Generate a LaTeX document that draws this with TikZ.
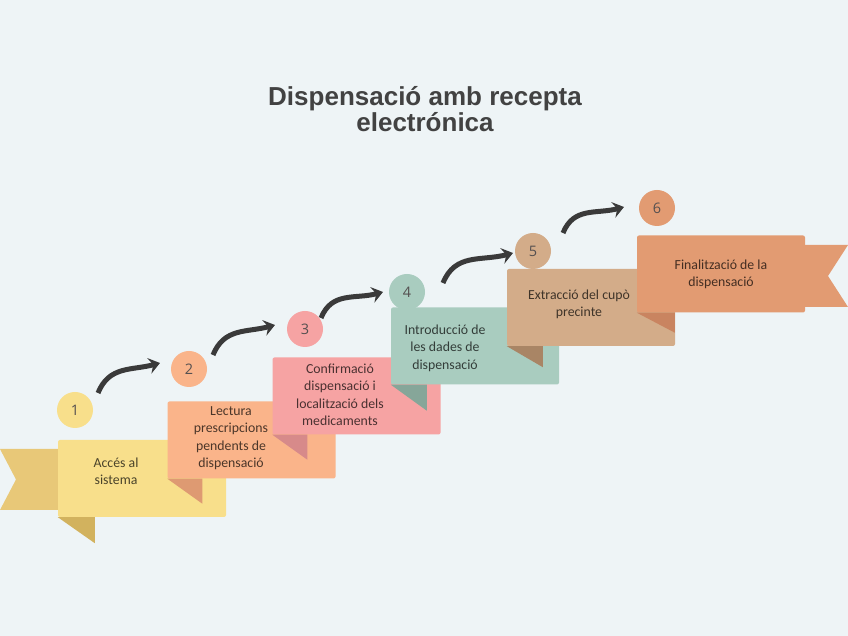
\documentclass[tikz,border=0pt]{standalone}
\usepackage{fontspec}
\setmainfont{Carlito}
\newfontfamily\titlefont{Liberation Sans}
\newfontfamily\numfont{Open Sans}
\usetikzlibrary{arrows.meta}

\definecolor{bgcol}{HTML}{EEF4F6}
\definecolor{titlecol}{HTML}{424242}
\definecolor{arrowcol}{HTML}{3A3A3A}
\definecolor{numcol}{HTML}{555050}
\definecolor{yel}{HTML}{F8DF8B}
\definecolor{yeltail}{HTML}{E8C878}
\definecolor{yelfold}{HTML}{D2B25E}
\definecolor{pea}{HTML}{FAB48A}
\definecolor{peafold}{HTML}{DE9A72}
\definecolor{pin}{HTML}{F6A3A3}
\definecolor{pinfold}{HTML}{D78A8A}
\definecolor{sag}{HTML}{A9CCBF}
\definecolor{sagfold}{HTML}{86A699}
\definecolor{tan}{HTML}{D3AC89}
\definecolor{tanfold}{HTML}{A98565}
\definecolor{ora}{HTML}{E29B72}
\definecolor{orafold}{HTML}{C98460}

\begin{document}
\begin{tikzpicture}[x=1pt,y=1pt,
  stepbox/.style={fill=#1, rounded corners=2pt, minimum width=168pt, minimum height=77pt, inner sep=0pt},
  stepnum/.style={circle, fill=#1, minimum size=36pt, inner sep=0pt, text=numcol, font=\numfont\fontsize{14.5}{14.5}\selectfont},
  steptext/.style={align=center, text=#1, font=\fontsize{13.8}{17.5}\selectfont},
  flow/.style={draw=arrowcol, line width=5pt, -{Stealth[length=11pt,width=16pt,inset=4pt]}}]

\fill[bgcol] (0,0) rectangle (848,636);
\useasboundingbox (0,0) rectangle (848,636);

\node[text=titlecol, align=center, font=\titlefont\bfseries\fontsize{26}{26}\selectfont] (title) at (425,527) {Dispensació amb recepta\\electrónica};

\fill[yeltail] (0,187) -- (70,187) -- (70,126) -- (0,126) -- (16,156.5) -- cycle;
\node[stepbox=yel] (b1) at (142,157.5) {};
\fill[yelfold] (b1.south west) -- ++(37,0) -- ++(0,-26) -- cycle;
\node[stepnum=yel] (c1) at (75,226) {1};
\node[steptext=black!70!yel] (t1) at (116,164.5) {Accés al\\sistema};

\node[stepbox=pea] (b2) at (251.5,196) {};
\fill[peafold] (b2.south west) -- ++(35,0) -- ++(0,-25) -- cycle;
\node[stepnum=pea] (c2) at (189,267) {2};
\node[steptext=black!70!pea] (t2) at (231,198) {Lectura\\prescripcions\\pendents de\\dispensació};

\node[stepbox=pin] (b3) at (356.5,240) {};
\fill[pinfold] (b3.south west) -- ++(35,0) -- ++(0,-25) -- cycle;
\node[stepnum=pin] (c3) at (305,307) {3};
\node[steptext=black!70!pin] (t3) at (340,241) {Confirmació\\dispensació i\\localització dels\\medicaments};

\node[stepbox=sag] (b4) at (475,290) {};
\fill[sagfold] (b4.south west) -- ++(36,0) -- ++(0,-26) -- cycle;
\node[stepnum=sag] (c4) at (407,344) {4};
\node[steptext=black!70!sag] (t4) at (445,288) {Introducció de\\les dades de\\dispensació};

\node[stepbox=tan] (b5) at (591,328.5) {};
\fill[tanfold] (b5.south west) -- ++(36,0) -- ++(0,-21) -- cycle;
\node[stepnum=tan] (c5) at (533,385) {5};
\node[steptext=black!70!tan] (t5) at (579,331.5) {Extracció del cupò\\precinte};

\fill[ora] (800,391) -- (848,391) -- (828,360) -- (848,329) -- (800,329) -- cycle;
\node[stepbox=ora] (b6) at (721,362) {};
\fill[orafold] (b6.south west) -- ++(38,0) -- ++(0,-20) -- cycle;
\node[stepnum=ora] (c6) at (657,428) {6};
\node[steptext=black!70!ora] (t6) at (721,361.5) {Finalització de la\\dispensació};

\draw[flow] ([shift={(23,17)}]c1.center) to[out=68,in=195,looseness=1.1] ([shift={(-29,6)}]c2.center);
\draw[flow] ([shift={(24,14)}]c2.center) to[out=68,in=195,looseness=1.1] ([shift={(-30,4)}]c3.center);
\draw[flow] ([shift={(16,11)}]c3.center) to[out=68,in=195,looseness=1.1] ([shift={(-24,0)}]c4.center);
\draw[flow] ([shift={(36,9)}]c4.center) to[out=68,in=195,looseness=1.1] ([shift={(-20,-2)}]c5.center);
\draw[flow] ([shift={(30,18)}]c5.center) to[out=68,in=195,looseness=1.1] ([shift={(-33,1)}]c6.center);

\end{tikzpicture}
\end{document}
